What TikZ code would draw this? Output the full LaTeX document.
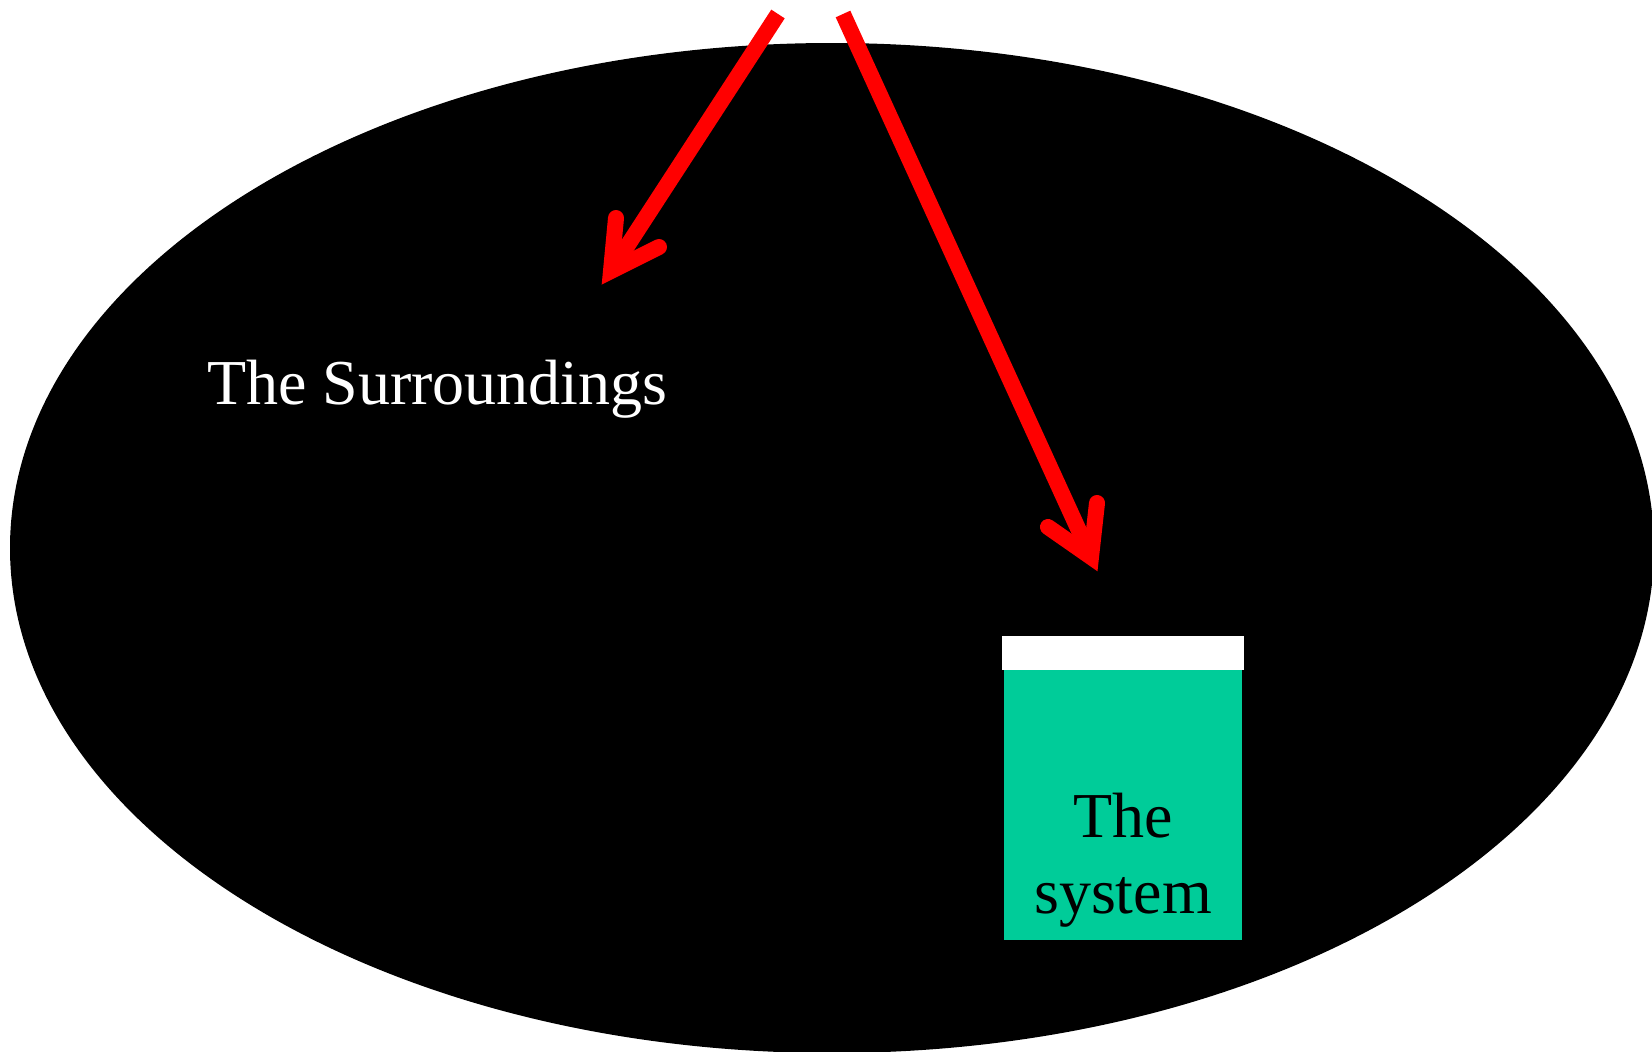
\documentclass[tikz,border=0pt]{standalone}
\usepackage{fontspec}
\setmainfont{Liberation Serif}
\definecolor{sysgreen}{RGB}{0,204,153}
\begin{document}
\begin{tikzpicture}[x=1pt,y=-1pt,
  redline/.style={draw=red, line width=16pt},
  barbs/.style={redline, line cap=round, line join=miter},
  bigtxt/.style={font=\fontsize{64}{76}\selectfont, inner sep=0pt}]
\useasboundingbox (0,0) rectangle (1652,1052);
\clip (0,0) rectangle (1652,1052);
% surroundings
\fill[black] (832,548) ellipse [x radius=822, y radius=505];
\node[bigtxt, text=white, anchor=base west] (surr) at (207,404) {The Surroundings};
% system
\node[fill=white, inner sep=0pt, minimum width=242pt, minimum height=34pt, anchor=north west] (lid) at (1002,636) {};
\node[fill=sysgreen, inner sep=0pt, minimum width=238pt, minimum height=270pt, anchor=north west] (sys) at (1004,670) {};
\node[bigtxt, text=black, anchor=base] (sysA) at (1123,837) {The};
\node[bigtxt, text=black, anchor=base] (sysB) at (1123,913) {system};
% arrows
\coordinate (a1s) at (778,14);
\coordinate (a1t) at (611,271);
\coordinate (a1l) at (616,218);
\coordinate (a1r) at (659,247);
\coordinate (a2s) at (843,14);
\coordinate (a2t) at (1091,557);
\coordinate (a2l) at (1048,527);
\coordinate (a2r) at (1097,503);
\draw[redline] (a1s) -- (a1t);
\draw[barbs] (a1l) -- (a1t) -- (a1r);
\draw[redline] (a2s) -- (a2t);
\draw[barbs] (a2l) -- (a2t) -- (a2r);
\end{tikzpicture}
\end{document}
